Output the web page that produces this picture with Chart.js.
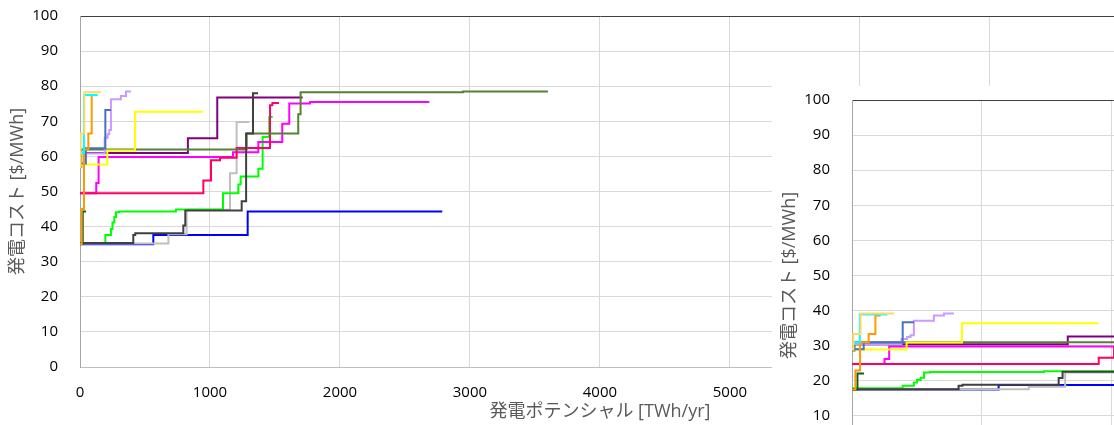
<!DOCTYPE html>
<html lang="ja">
<head>
<meta charset="utf-8">
<title>発電コストと発電ポテンシャル</title>
<script src="https://cdn.jsdelivr.net/npm/chart.js@4.4.1/dist/chart.umd.min.js"></script>
<style>
    html, body { margin: 0; padding: 0; background: #fff; }
    body { position: relative; width: 1114px; height: 425px; overflow: hidden; }
    #mainChart { position: absolute; left: 0; top: -15px; }
    #subBox { position: absolute; left: 772px; top: 86px; width: 342px; height: 339px; overflow: hidden; background: #fff; }
    #subChart { position: absolute; left: 0; top: -17px; }
</style>
</head>
<body>
<canvas id="mainChart" width="1154" height="441"></canvas>
<div id="subBox"><canvas id="subChart" width="1154" height="441"></canvas></div>
<script>
// supply curves: potential where each cost level starts [TWh/yr], cost [$/MWh]
// "Main" = left (big) chart, "Sub" = overlapping chart on the right

const lightOrangeX = [0, 5, 33, 162];
const lightOrangeMain = [57, 66.5, 78.3, 78.3];
const lightOrangeSub = [29, 33.3, 39.2, 39.2];

const cyanX = [0, 30, 136];
const cyanMain = [61, 77.5, 77.5];
const cyanSub = [31, 38.9, 38.9];

const orangeX = [0, 13, 31, 64, 90, 110];
const orangeMain = [35, 45, 62, 66.5, 77.5, 77.5];
const orangeSub = [17.5, 22.9, 31, 33.3, 38.6, 38.6];

const steelBlueX = [0, 45, 195, 238];
const steelBlueMain = [58, 62.3, 73.2, 73.2];
const steelBlueSub = [29, 30.9, 36.7, 36.7];

const lavenderX = [0, 190, 212, 225, 238, 315, 354, 392];
const lavenderMain = [60.8, 65.3, 66.3, 67.5, 76.3, 77.2, 78.5, 78.5];
const lavenderSub = [30.5, 31.9, 32.5, 33, 37.1, 38.6, 39.2, 39.2];

const yellowX = [0, 210, 423, 948];
const yellowMain = [57.7, 61.7, 72.7, 72.7];
const yellowSub = [28.9, 30.9, 36.4, 36.4];

const oliveX = [0, 10, 1282, 1679, 1697, 2946, 3600];
const oliveMain = [57, 62, 66.5, 72, 78.3, 78.5, 78.5];
const oliveSub = [28.6, 31, 33.2, 36, 39.2, 39.3, 39.3];

const purpleX = [0, 830, 1056, 1713];
const purpleMain = [61, 65.2, 76.8, 76.8];
const purpleSub = [30.4, 32.6, 38.4, 38.4];

const pinkX = [0, 949, 1008, 1077, 1205, 1462, 1480, 1531];
const pinkMain = [49.5, 53.1, 58.9, 59.6, 62.4, 74.6, 75.2, 75.2];
const pinkSub = [24.8, 26.6, 29.5, 29.8, 31.2, 37.3, 37.6, 37.6];

const magentaX = [0, 125, 143, 1177, 1372, 1556, 1610, 1769, 2680];
const magentaMain = [49.5, 52.4, 59.8, 61.2, 64.1, 69.3, 75.1, 75.5, 75.8];
const magentaSub = [24.8, 26.2, 29.8, 30.6, 32, 34.6, 37.5, 37.7, 37.9];

const greenX = [0, 195, 238, 250, 264, 277, 300, 738, 1100, 1218, 1236, 1372, 1405, 1456, 1482];
const greenMain = [35.3, 37.6, 39.3, 41.2, 42.7, 44.1, 44.3, 44.9, 49.5, 52, 54.3, 56.5, 65.5, 71.2, 71.2];
const greenSub = [17.9, 18.6, 19.5, 20.2, 20.9, 22.4, 22.5, 22.7, 24.8, 26, 27.2, 28.3, 32.8, 35.6, 35.6];

const darkGrayX = [0, 410, 425, 795, 810, 1244, 1278, 1331, 1370];
const darkGrayMain = [35.3, 37.6, 38.1, 40.3, 44.6, 47.2, 66.5, 78, 78];
const darkGraySub = [17.6, 18.6, 18.9, 20.8, 22.6, 23.8, 33.2, 39, 39];

const lightGrayX = [0, 680, 820, 1154, 1205, 1302];
const lightGrayMain = [35.2, 37.8, 44.8, 55.2, 69.8, 69.8];
const lightGraySub = [17.6, 18.3, 22.4, 27.6, 34.9, 34.9];

const blueX = [0, 564, 1290, 2787];
const blueMain = [35, 37.6, 44.3, 44.3];
const blueSub = [17.5, 18.8, 22.2, 22.2];

const darkGreenX = [0, 21, 46];
const darkGreenMain = [35.1, 44.3, 44.3];
const darkGreenSub = [17.5, 22.1, 22.1];

const yTicks = [0, 10, 20, 30, 40, 50, 60, 70, 80, 90, 100];
const X_TITLE = '発電ポテンシャル [TWh/yr]';
const Y_TITLE = '発電コスト [$/MWh]';

// first entry is drawn on top
const series = [
    { x: lightOrangeX, main: lightOrangeMain, sub: lightOrangeSub, color: '#FFD966' },
    { x: cyanX, main: cyanMain, sub: cyanSub, color: '#00FFFF' },
    { x: orangeX, main: orangeMain, sub: orangeSub, color: '#FF9900' },
    { x: steelBlueX, main: steelBlueMain, sub: steelBlueSub, color: '#4472C4' },
    { x: lavenderX, main: lavenderMain, sub: lavenderSub, color: '#CC99FF' },
    { x: yellowX, main: yellowMain, sub: yellowSub, color: '#FFFF00' },
    { x: darkGreenX, main: darkGreenMain, sub: darkGreenSub, color: '#0B5F1E' },
    { x: darkGrayX, main: darkGrayMain, sub: darkGraySub, color: '#404040' },
    { x: oliveX, main: oliveMain, sub: oliveSub, color: '#548235' },
    { x: purpleX, main: purpleMain, sub: purpleSub, color: '#800080' },
    { x: pinkX, main: pinkMain, sub: pinkSub, color: '#FF0066' },
    { x: magentaX, main: magentaMain, sub: magentaSub, color: '#FF00FF' },
    { x: greenX, main: greenMain, sub: greenSub, color: '#00FF00' },
    { x: lightGrayX, main: lightGrayMain, sub: lightGraySub, color: '#BFBFBF' },
    { x: blueX, main: blueMain, sub: blueSub, color: '#0000FF' }
];

Chart.defaults.font.family = "'Open Sans', 'Noto Sans CJK JP', sans-serif";

const tickFont = { size: 15 };
const titleFont = { size: 18 };

function toPoints(xs, ys) {
    return xs.map((x, i) => ({ x: x, y: ys[i] }));
}

function buildDatasets(key) {
    return series.map(s => ({
        data: toPoints(s.x, s[key]),
        borderColor: s.color,
        borderWidth: 2,
        pointRadius: 0,
        stepped: 'before',
        fill: false
    }));
}

function makeChart(canvasId, key, xMax, xStep) {
    const ctx = document.getElementById(canvasId).getContext('2d');
    return new Chart(ctx, {
        type: 'line',
        data: { datasets: buildDatasets(key) },
        options: {
            responsive: false,
            animation: false,
            devicePixelRatio: 1,
            parsing: false,
            layout: { autoPadding: false, padding: { top: 16, left: 0, right: 0, bottom: 0 } },
            plugins: { legend: { display: false }, tooltip: { enabled: false } },
            scales: {
                x: {
                    type: 'linear',
                    min: 0,
                    max: xMax,
                    ticks: {
                        stepSize: xStep,
                        padding: 17,
                        color: '#000',
                        font: tickFont,
                        maxRotation: 0,
                        autoSkip: false,
                        callback: v => String(v)
                    },
                    grid: { color: '#d9d9d9', drawTicks: false },
                    border: { color: '#bfbfbf' },
                    title: { display: true, text: X_TITLE, color: '#595959', font: titleFont, padding: { top: 0, bottom: 3 } },
                    afterFit: scale => { scale.height = 59; }
                },
                y: {
                    type: 'linear',
                    min: yTicks[0],
                    max: yTicks[yTicks.length - 1],
                    ticks: {
                        stepSize: 10,
                        padding: 22,
                        color: '#000',
                        font: tickFont,
                        callback: v => String(v)
                    },
                    grid: {
                        color: c => (c.tick && c.tick.value === 100) ? '#404040' : '#d9d9d9',
                        drawTicks: false
                    },
                    border: { color: '#a6a6a6' },
                    title: { display: true, text: Y_TITLE, color: '#595959', font: titleFont, padding: { top: 7, bottom: 0 } },
                    afterFit: scale => { scale.width = 80; }
                }
            }
        }
    });
}

makeChart('mainChart', 'main', 8000, 1000);
makeChart('subChart', 'sub', 4000, 500);
</script>
</body>
</html>
